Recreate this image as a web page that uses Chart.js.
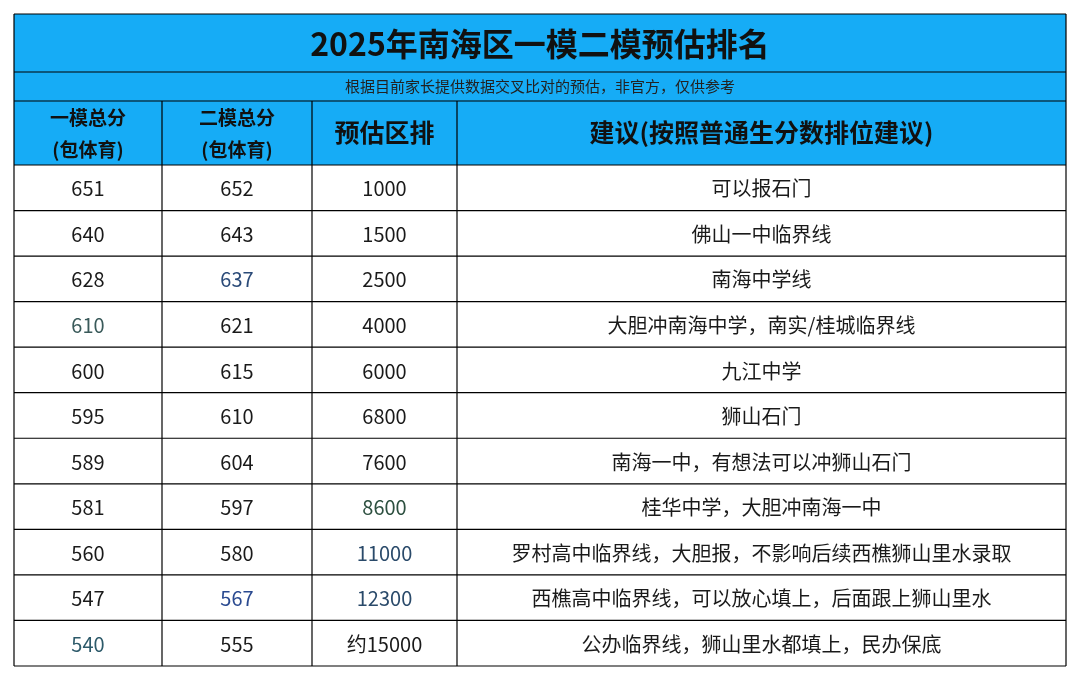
<!DOCTYPE html>
<html><head><meta charset="utf-8">
<script src="https://cdn.jsdelivr.net/npm/chart.js@4.4.1/dist/chart.umd.min.js"></script>
<style>html,body{margin:0;background:#fff}#wrap{width:1080px;height:681px}</style>
</head><body><div id="wrap"><canvas id="c"></canvas></div>
<script>
const title = '2025年南海区一模二模预估排名';
const subtitle = '根据目前家长提供数据交叉比对的预估，非官方，仅供参考';
const headers = [['一模总分', '(包体育)'], ['二模总分', '(包体育)'], ['预估区排'], ['建议(按照普通生分数排位建议)']];
const mock1 = ['651', '640', '628', '610', '600', '595', '589', '581', '560', '547', '540'];
const mock2 = ['652', '643', '637', '621', '615', '610', '604', '597', '580', '567', '555'];
const ranks = ['1000', '1500', '2500', '4000', '6000', '6800', '7600', '8600', '11000', '12300', '约15000'];
const advice = ['可以报石门', '佛山一中临界线', '南海中学线', '大胆冲南海中学，南实/桂城临界线', '九江中学', '狮山石门',
  '南海一中，有想法可以冲狮山石门', '桂华中学，大胆冲南海一中', '罗村高中临界线，大胆报，不影响后续西樵狮山里水录取',
  '西樵高中临界线，可以放心填上，后面跟上狮山里水', '公办临界线，狮山里水都填上，民办保底'];

// layout (scale units)
const colEdges = [0, 148, 298, 443, 1052];
const rowEdges = [0, 58, 87, 151];
for (let i = 1; i <= mock1.length; i++) rowEdges.push(151 + i * 45.55);
const cyan = '#16acf6';
const FONT = '"Noto Sans CJK SC", "Noto Sans", sans-serif';
// slight colour variation seen in the picture
const tint = { '0,3': '#3a5a5a', '0,10': '#2d5a6a', '1,2': '#2a4a78', '1,9': '#2a4a90', '2,7': '#2d5040', '2,8': '#2a4a6a', '2,9': '#2a4a6a' };

const tablePlugin = {
  id: 'table',
  afterDraw(chart) {
    const { ctx, scales: { x, y } } = chart;
    const X = v => x.getPixelForValue(v), Y = v => y.getPixelForValue(v);
    const L = X(0), R = X(colEdges[4]);
    ctx.save();
    ctx.fillStyle = cyan;
    ctx.fillRect(L, Y(0), R - L, Y(rowEdges[3]) - Y(0));
    ctx.textAlign = 'center'; ctx.textBaseline = 'middle';
    ctx.fillStyle = '#111';
    ctx.font = 'bold 32px ' + FONT;
    ctx.fillText(title, (L + R) / 2, (Y(0) + Y(58)) / 2 + 1);
    ctx.font = '15px ' + FONT;
    ctx.fillStyle = '#222';
    ctx.fillText(subtitle, (L + R) / 2, (Y(58) + Y(87)) / 2);
    headers.forEach((h, c) => {
      const cx = (X(colEdges[c]) + X(colEdges[c + 1])) / 2, cy = (Y(87) + Y(151)) / 2;
      ctx.fillStyle = '#111';
      if (h.length === 2) {
        ctx.font = 'bold 19px ' + FONT;
        ctx.fillText(h[0], cx, cy - 15); ctx.fillText(h[1], cx, cy + 17);
      } else {
        ctx.font = 'bold 25px ' + FONT;
        ctx.fillText(h[0], cx, cy);
      }
    });
    const cols = [mock1, mock2, ranks, advice];
    ctx.font = '20px ' + FONT;
    for (let r = 0; r < mock1.length; r++) {
      const cy = (Y(rowEdges[r + 3]) + Y(rowEdges[r + 4])) / 2;
      cols.forEach((col, c) => {
        ctx.fillStyle = tint[c + ',' + r] || '#1a1a1a';
        ctx.fillText(col[r], (X(colEdges[c]) + X(colEdges[c + 1])) / 2, cy + 1);
      });
    }
    ctx.strokeStyle = '#000'; ctx.lineWidth = 1.2;
    rowEdges.forEach(e => { ctx.beginPath(); ctx.moveTo(L, Y(e)); ctx.lineTo(R, Y(e)); ctx.stroke(); });
    colEdges.forEach((e, i) => {
      const top = (i === 0 || i === 4) ? Y(0) : Y(87);
      ctx.beginPath(); ctx.moveTo(X(e), top); ctx.lineTo(X(e), Y(rowEdges[rowEdges.length - 1])); ctx.stroke();
    });
    ctx.restore();
  }
};

new Chart(document.getElementById('c'), {
  type: 'scatter',
  data: { datasets: [{ data: [] }] },
  options: {
    responsive: true, maintainAspectRatio: false, animation: false,
    layout: { padding: { left: 14, right: 14, top: 14, bottom: 15 } },
    plugins: { legend: { display: false }, tooltip: { enabled: false } },
    scales: {
      x: { type: 'linear', min: 0, max: colEdges[4], display: false },
      y: { type: 'linear', min: 0, max: rowEdges[rowEdges.length - 1], reverse: true, display: false }
    }
  },
  plugins: [tablePlugin]
});
</script></body></html>
